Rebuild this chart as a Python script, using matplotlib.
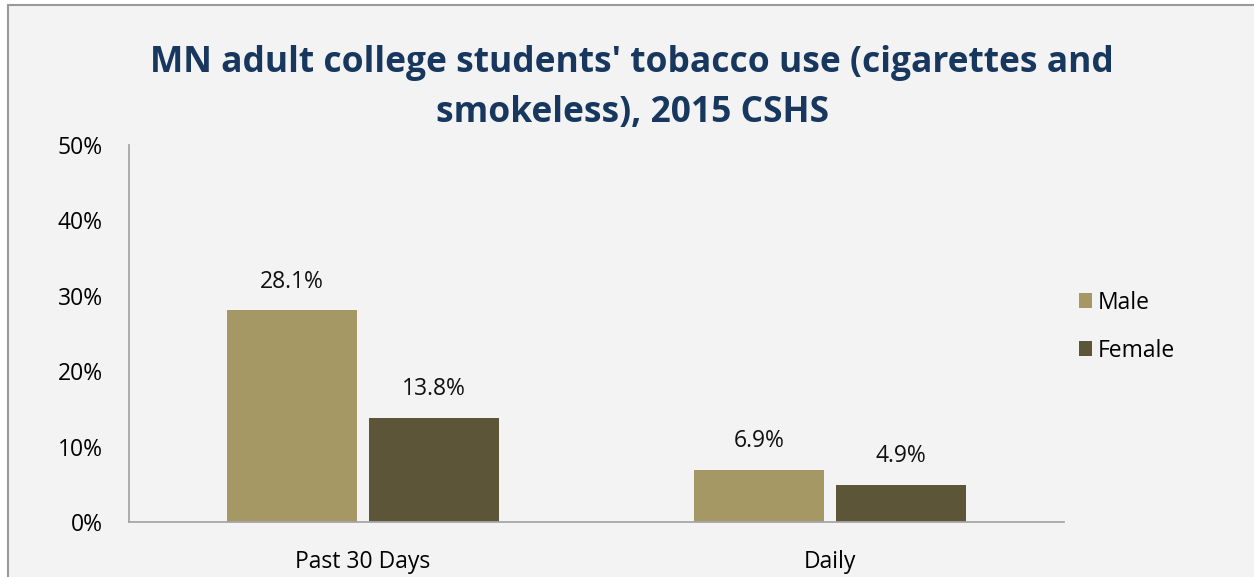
import matplotlib
matplotlib.use("Agg")
import matplotlib.pyplot as plt
from matplotlib.patches import Rectangle
import numpy as np

categories = ["Past 30 Days", "Daily"]
male = [28.1, 6.9]
female = [13.8, 4.9]
yticks = [0, 10, 20, 30, 40, 50]
title_lines = ["MN adult college students' tobacco use (cigarettes and",
               "smokeless), 2015 CSHS"]

MALE_C = "#a59865"
FEMALE_C = "#5c5538"
BG = "#f3f3f3"
FS = 16.5

plt.rcParams["font.family"] = ["Open Sans", "DejaVu Sans"]

W, H = 1254, 577
fig = plt.figure(figsize=(W / 100, H / 100), dpi=100)
fig.patch.set_facecolor("white")

# chart area panel with grey outline (runs off the right and bottom)
fig.patches.append(Rectangle((8 / W, -0.05), 1.05, 1.05 - 5 / H,
                             transform=fig.transFigure, facecolor=BG,
                             edgecolor="#9a9a9a", lw=1.5, zorder=-10))

ax = fig.add_axes([129 / W, 1 - 522 / H, (1064 - 129) / W, (522 - 145) / H])
ax.set_zorder(1)
ax.patch.set_alpha(0)

x = np.arange(len(categories))
w, off = 0.278, 0.152
bm = ax.bar(x - off, male, w, color=MALE_C, label="Male")
bf = ax.bar(x + off, female, w, color=FEMALE_C, label="Female")
for bars, vals in ((bm, male), (bf, female)):
    for b, v in zip(bars, vals):
        ax.text(b.get_x() + b.get_width() / 2, v + 2.2, "%.1f%%" % v,
                ha="center", va="bottom", fontsize=FS, color="#111111")

ax.set_xlim(-0.5, 1.5)
ax.set_ylim(0, 50)
ax.set_xticks(x)
ax.set_xticklabels(categories, fontsize=FS)
ax.set_yticks(yticks)
ax.set_yticklabels(["%d%%" % t for t in yticks], fontsize=FS)
ax.tick_params(length=0, pad=19)
ax.tick_params(axis="x", pad=20)
for s in ("top", "right"):
    ax.spines[s].set_visible(False)
for s in ("left", "bottom"):
    ax.spines[s].set_color("#a6a6a6")
    ax.spines[s].set_linewidth(1.3)

# two-line title, one baseline per line
for i, line in enumerate(title_lines):
    fig.text(632 / W, 1 - (72 + 50 * i) / H, line,
             ha="center", va="baseline", fontsize=25.5, fontweight="bold",
             color="#17375e")

fig.legend(handles=[bm, bf], loc="upper left",
           bbox_to_anchor=(1058 / W, 1 - 270 / H), frameon=False,
           fontsize=FS, handlelength=0.6, handleheight=0.6,
           handletextpad=0.25, labelspacing=1.05)

fig.savefig("out.png", dpi=100, facecolor=fig.get_facecolor())
